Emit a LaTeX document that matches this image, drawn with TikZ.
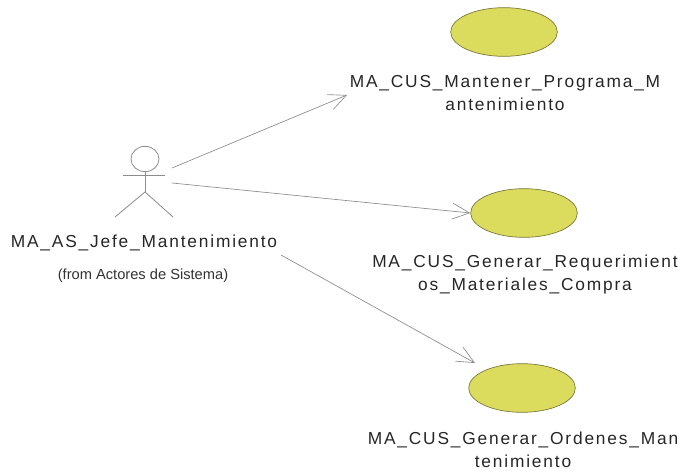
\documentclass[tikz,border=0pt]{standalone}
\usepackage{fontspec}
\setmainfont{Liberation Sans}
\newfontfamily\labelfont[LetterSpace=10.5]{Liberation Sans}
\usetikzlibrary{arrows.meta,shapes.geometric}
\definecolor{casefill}{HTML}{DBDB5E}
\definecolor{caseline}{HTML}{77773A}
\definecolor{umlline}{HTML}{8C8C8C}
\tikzset{
    usecase/.style={ellipse, draw=caseline, fill=casefill, line width=0.5pt, minimum width=80pt, minimum height=36.5pt, inner sep=0pt},
    caselabel/.style={text=black!85, align=center, inner sep=0pt, font=\fontsize{13}{17}\selectfont\labelfont},
    assoc/.style={umlline, line width=0.5pt, -{Straight Barb[length=13pt,width=12pt,line width=0.5pt]}},
    limb/.style={umlline, line width=0.6pt},
}
\begin{document}
\begin{tikzpicture}[x=0.75pt,y=-0.75pt]
    \useasboundingbox (0,0) rectangle (680,470);
    % use cases
    \node [usecase] (ucMantener) at (504,32) {};
    \node [usecase] (ucRequerir) at (524,213) {};
    \node [usecase] (ucOrdenes) at (522,388) {};
    % labels
    \node [caselabel] (lblMantener) at (505,93) {MA\_CUS\_Mantener\_Programa\_M\\antenimiento};
    \node [caselabel] (lblRequerir) at (525,274.5) {MA\_CUS\_Generar\_Requerimient\\os\_Materiales\_Compra};
    \node [caselabel] (lblOrdenes) at (523,449.5) {MA\_CUS\_Generar\_Ordenes\_Man\\tenimiento};
    \node [caselabel] (lblJefe) at (144,242.5) {MA\_AS\_Jefe\_Mantenimiento};
    \node [text=black!80, inner sep=0pt, font=\fontsize{11}{13}\selectfont] (lblFrom) at (143,275.5) {(from Actores de Sistema)};
    % actor
    \node [draw=umlline, line width=0.6pt, ellipse, minimum width=21pt, minimum height=19pt, inner sep=0pt] (head) at (145,159) {};
    \coordinate (neck) at (145,192);
    \coordinate (armL) at (123,175);
    \coordinate (armR) at (165,175);
    \coordinate (legL) at (115,217);
    \coordinate (legR) at (173,217);
    \draw [limb] (head.south) -- (neck);
    \draw [limb] (armL) -- (armR);
    \draw [limb] (legL) -- (neck) -- (legR);
    % associations
    \coordinate (fromA) at (172,168);
    \coordinate (toA) at (347,95);
    \coordinate (fromB) at (172,183);
    \coordinate (fromC) at (281,255);
    \coordinate (toC) at (475,363);
    \draw [assoc] (fromA) -- (toA);
    \draw [assoc] (fromB) -- (ucRequerir.west);
    \draw [assoc] (fromC) -- (toC);
\end{tikzpicture}
\end{document}
